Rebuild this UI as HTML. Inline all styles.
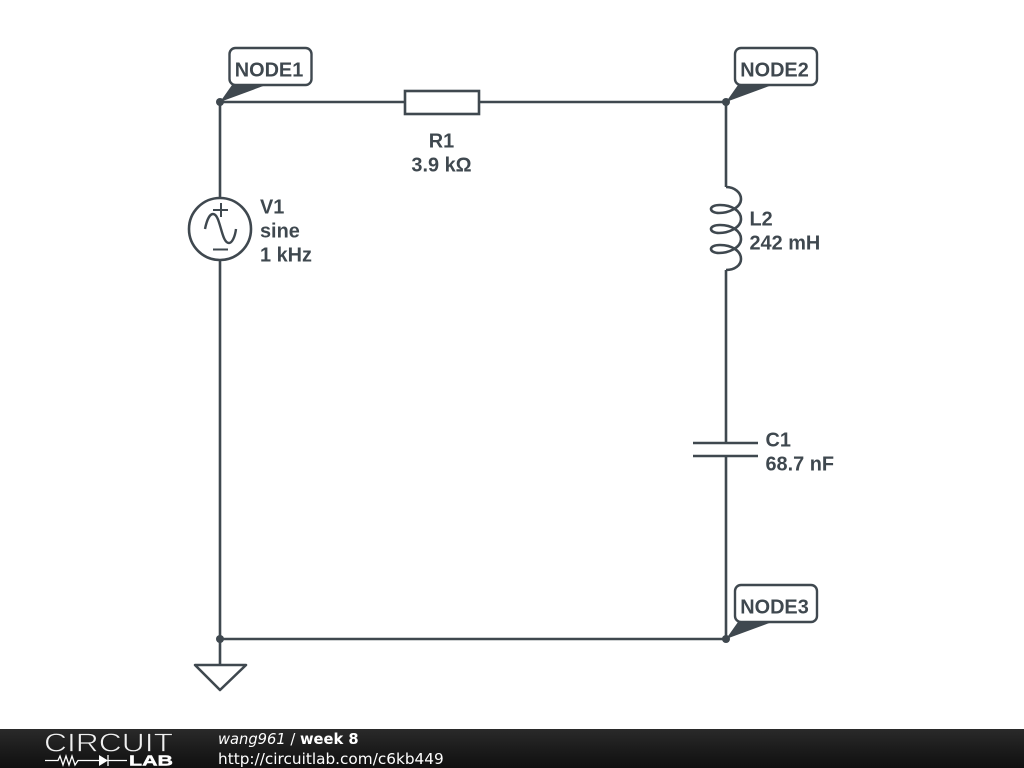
<!DOCTYPE html>
<html>
<head>
<meta charset="utf-8">
<style>
html,body{margin:0;padding:0;background:#fff;}
body{width:1024px;height:768px;overflow:hidden;position:relative;}
svg{position:absolute;left:0;top:0;}
.l{font-family:"Liberation Sans",sans-serif;font-size:19.9px;font-weight:700;fill:#3f484f;}
.f{font-family:"DejaVu Sans",sans-serif;fill:#fff;}
</style>
</head>
<body>
<svg width="1024" height="768" viewBox="0 0 1024 768">
<defs>
<linearGradient id="g" x1="0" y1="0" x2="0" y2="1">
<stop offset="0" stop-color="#2a2a2a"/>
<stop offset="0.5" stop-color="#1c1c1c"/>
<stop offset="1" stop-color="#101010"/>
</linearGradient>
</defs>
<rect width="1024" height="768" fill="#fff"/>
<g fill="none" stroke="#3f484f" stroke-width="2.6">
<!-- wires -->
<path d="M220 102H405M479 102H726"/>
<path d="M220 102V197M220 261V664"/>
<path d="M726 102V187M726 270V443M726 456V639"/>
<path d="M220 639H726"/>
<!-- resistor -->
<rect x="405" y="91" width="74" height="23" fill="#fff"/>
<!-- source -->
<circle cx="220" cy="229" r="31"/>
<path d="M213 210H228M221 203V217M213 249.500H228" stroke-width="2"/>
<path d="M205 229C207 219 210 214 213 214C217 214 219 222 221 229C223 236 225 243 229 243C232 243 235 237 236 229" stroke-width="2.4"/>
<!-- inductor -->
<path d="M726 187C735 187 741 193 741 199C741 208 728 213 719 213C714 213 711 211 711 209C711 207 714 205 720 205C732 205 741 211 741 219C741 228 728 233 719 233C714 233 711 231 711 229C711 227 714 225 720 225C732 225 741 231 741 239C741 248 728 253 719 253C714 253 711 251 711 249C711 247 714 245 720 245C732 245 741 251 741 259C741 265 735 270 726 270"/>
<!-- capacitor -->
<path d="M693 443H758M693 456H758"/>
<!-- ground -->
<path d="M195 665H246L220 690Z" stroke-linejoin="round"/>
</g>
<!-- junction dots -->
<g fill="#3f484f">
<circle cx="220" cy="102" r="4"/>
<circle cx="726" cy="102" r="4"/>
<circle cx="726" cy="639" r="4"/>
<circle cx="220" cy="639" r="4"/>
</g>
<!-- node labels -->
<g fill="#fff" stroke="#3f484f" stroke-width="2.4">
<rect x="229.500" y="48" width="82" height="37" rx="6"/>
<rect x="735" y="48" width="82" height="37" rx="6"/>
<rect x="735" y="585" width="82" height="37" rx="6"/>
</g>
<!-- node callout tails -->
<g fill="#3f484f">
<path d="M220 102L232 85H266Z"/>
<path d="M726 102L738 85H772Z"/>
<path d="M726 639L738 622H772Z"/>
</g>
<text class="l" x="269" y="76.500" text-anchor="middle">NODE1</text>
<text class="l" x="774.500" y="76.500" text-anchor="middle">NODE2</text>
<text class="l" x="774.500" y="613.500" text-anchor="middle">NODE3</text>
<!-- component labels -->
<text class="l" x="441.500" y="147.500" text-anchor="middle">R1</text>
<text class="l" x="441.500" y="171.500" text-anchor="middle">3.9 kΩ</text>
<text class="l" x="260" y="213.500">V1</text>
<text class="l" x="260" y="237.500">sine</text>
<text class="l" x="260" y="261.500">1 kHz</text>
<text class="l" x="749.500" y="225.500">L2</text>
<text class="l" x="749.500" y="249.500">242 mH</text>
<text class="l" x="765.500" y="446.500">C1</text>
<text class="l" x="765.500" y="470.500">68.7 nF</text>
<!-- footer -->
<rect x="0" y="729" width="1024" height="39" fill="url(#g)"/>
<text x="44" y="751.500" font-family="Liberation Sans, sans-serif" font-size="26" fill="#f0f0f0" stroke="#1f1f1f" stroke-width="0.7" textLength="129" lengthAdjust="spacingAndGlyphs">CIRCUIT</text>
<path d="M45 760.500H58L60 756L63 765L66 756L69 765L72 756L75 765L78 760.500H99M108 760.500H127M108 755V766" fill="none" stroke="#fff" stroke-width="1.300"/>
<path d="M99 755V766L108 760.500Z" fill="#fff"/>
<text x="129" y="765.500" font-family="Liberation Sans, sans-serif" font-size="14.500" font-weight="700" fill="#fff" stroke="#fff" stroke-width="0.4" textLength="44" lengthAdjust="spacingAndGlyphs">LAB</text>
<text class="f" font-size="14.700" x="218" y="744"><tspan font-style="italic">wang961</tspan> / <tspan font-weight="700">week 8</tspan></text>
<text class="f" font-size="15.300" x="218" y="764">http://circuitlab.com/c6kb449</text>
</svg>
</body>
</html>
